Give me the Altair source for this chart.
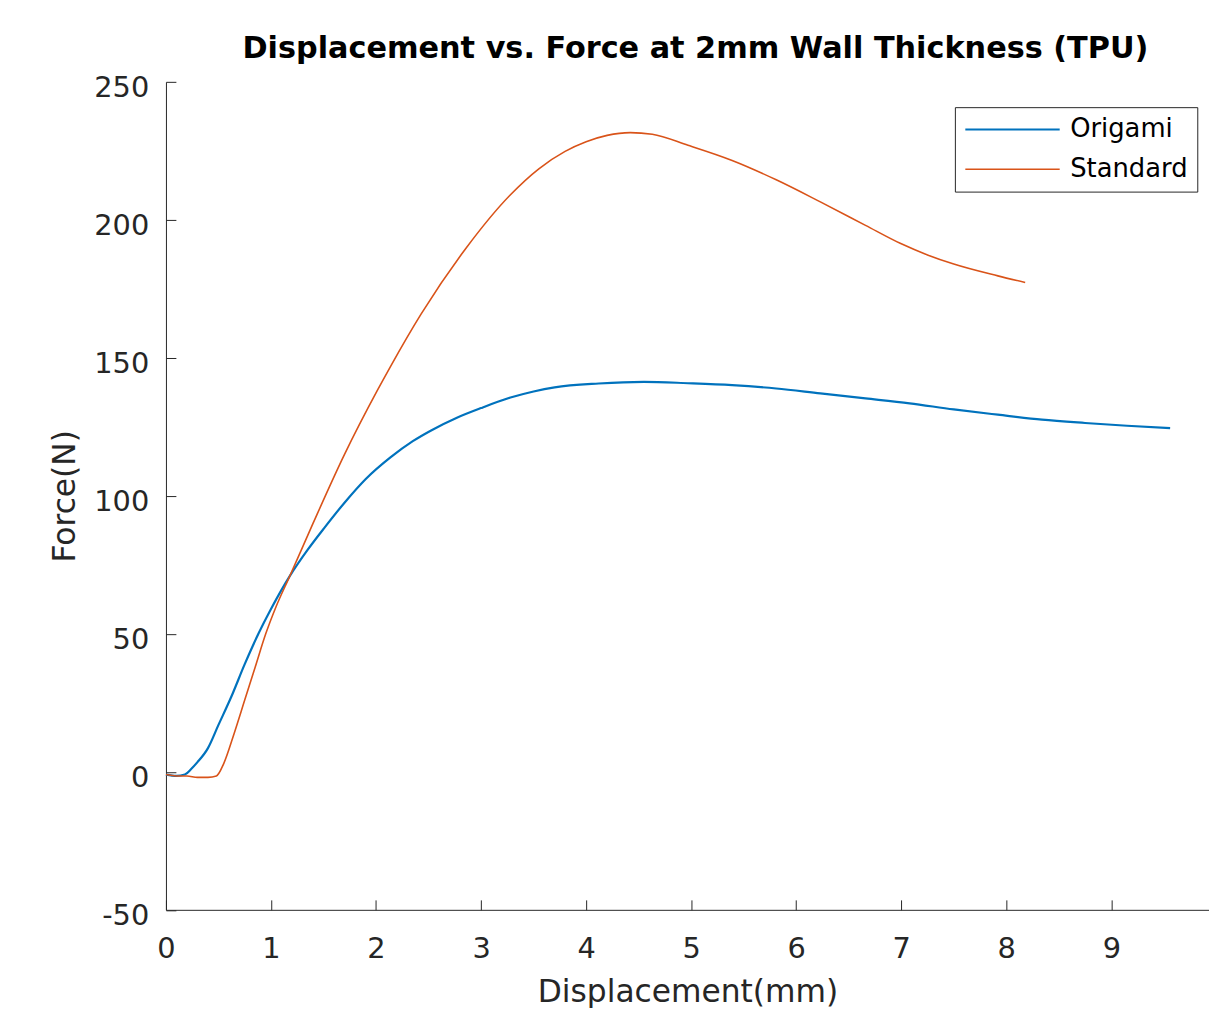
import altair as alt
import pandas as pd

# ---- data ----
origami_x = [0.00, 0.10, 0.18, 0.24, 0.30, 0.40, 0.50, 0.62, 0.75, 0.88, 1.00, 1.18, 1.35, 1.51,
             1.70, 1.90, 2.14, 2.35, 2.52, 2.77, 3.00, 3.28, 3.50, 3.70, 4.12, 4.55, 4.97, 5.39,
             5.81, 6.23, 6.66, 7.08, 7.50, 7.92, 8.34, 8.75, 9.15, 9.56]
origami_f = [-1.0, -1.5, -1.0, 1.0, 3.5, 8.6, 17.0, 27.0, 39.0, 50.0, 59.0, 71.0, 80.5, 88.5,
             97.5, 106.0, 114.0, 119.8, 123.6, 128.3, 131.8, 135.6, 137.8, 139.3, 140.7, 141.3, 140.8, 140.1,
             138.9, 137.1, 135.3, 133.5, 131.3, 129.4, 127.6, 126.4, 125.4, 124.5]

standard_x = [0.00, 0.10, 0.20, 0.30, 0.40, 0.48, 0.55, 0.65, 0.75, 0.85, 0.95, 1.05, 1.18, 1.40,
              1.70, 2.01, 2.14, 2.43, 2.86, 3.28, 3.55, 3.80, 4.00, 4.20, 4.42, 4.63, 4.97, 5.39,
              5.81, 6.23, 6.66, 6.99, 7.25, 7.50, 7.92, 8.18]
standard_f = [-1.0, -1.5, -1.5, -2.0, -2.0, -1.5, 3.0, 14.0, 26.0, 38.0, 50.0, 60.0, 71.0, 90.0,
              115.0, 138.0, 147.0, 165.9, 189.9, 209.1, 218.5, 224.8, 228.3, 230.6, 231.6, 231.0, 227.0, 221.5,
              214.5, 206.5, 198.0, 191.5, 187.3, 184.0, 179.7, 177.3]

series_names = ["Origami", "Standard"]
series_colors = ["#0072BD", "#D95319"]
x_ticks = [0, 1, 2, 3, 4, 5, 6, 7, 8, 9]
y_ticks = [-50, 0, 50, 100, 150, 200, 250]

df = pd.concat([
    pd.DataFrame({"Displacement": origami_x, "Force": origami_f, "Series": "Origami"}),
    pd.DataFrame({"Displacement": standard_x, "Force": standard_f, "Series": "Standard"}),
], ignore_index=True)

FONT = "DejaVu Sans"
AX = "#262626"

chart = alt.Chart(df).mark_line(interpolate="monotone").encode(
    x=alt.X("Displacement:Q",
            scale=alt.Scale(domain=[0, 9.93], nice=False, zero=False),
            axis=alt.Axis(values=x_ticks, title="Displacement(mm)", grid=False,
                          labelFlush=False, labelOverlap=False, labelExpr="'' + datum.value",
                          labelFont=FONT, labelFontSize=29, labelColor=AX,
                          labelPadding=34.7, tickSize=alt.ExprRef(expr="-10"),
                          tickColor=AX, domainColor=AX, tickWidth=1, domainWidth=1,
                          titleFont=FONT, titleFontSize=31.5, titleFontWeight="normal",
                          titleColor=AX, titleBaseline="alphabetic", titleY=92.5)),
    y=alt.Y("Force:Q",
            scale=alt.Scale(domain=[-50, 250], nice=False, zero=False),
            axis=alt.Axis(values=y_ticks, title="Force(N)", grid=False,
                          labelExpr="'' + datum.value",
                          labelFont=FONT, labelFontSize=29, labelColor=AX,
                          labelPadding=27.3, labelOffset=6, labelOverlap=False, labelFlush=False,
                          tickSize=alt.ExprRef(expr="-10"),
                          tickColor=AX, domainColor=AX, tickWidth=1, domainWidth=1,
                          titleFont=FONT, titleFontSize=31.5, titleFontWeight="normal",
                          titleColor=AX, titleBaseline="alphabetic", titleX=-92.3)),
    color=alt.Color("Series:N",
                    scale=alt.Scale(domain=series_names, range=series_colors),
                    legend=alt.Legend(orient="none", legendX=794.2, legendY=25.5, title=None,
                                      symbolType="stroke", symbolSize=9025, symbolStrokeWidth=1.5,
                                      labelFont=FONT, labelFontSize=26, labelColor="#000",
                                      strokeColor=AX, fillColor="white", padding=9,
                                      clipHeight=27, rowPadding=13, labelOffset=9,
                                      symbolOffset=0)),
    strokeWidth=alt.StrokeWidth("Series:N",
                                scale=alt.Scale(domain=series_names, range=[2.2, 1.6]),
                                legend=None),
).properties(
    width=1050,
    height=833.5,
    title=alt.TitleParams(text="Displacement vs. Force at 2mm Wall Thickness (TPU)",
                          font=FONT, fontSize=30.5, fontWeight="bold", color="#000",
                          anchor="middle", baseline="alphabetic", offset=19.7, frame="group",
                          dy=34, dx=8),
    autosize=alt.AutoSizeParams(type="none"),
    padding={"left": 159, "top": 71, "right": 0, "bottom": 95.5},
).configure_view(stroke=None)

chart.save("out.html", embed_options={"renderer": "svg", "actions": False})
